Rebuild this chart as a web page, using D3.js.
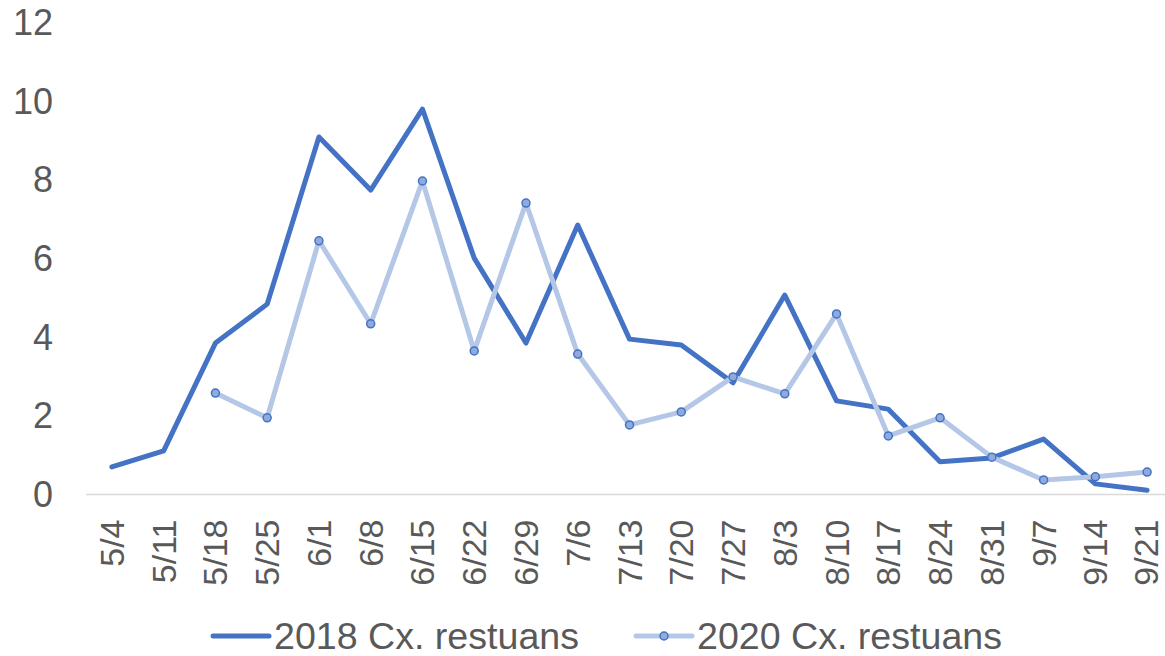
<!DOCTYPE html>
<html>
<head>
<meta charset="utf-8">
<script src="https://d3js.org/d3.v7.min.js"></script>
<style>
  body { margin: 0; background: #fff; }
  text { font-family: "Liberation Sans", Arial, sans-serif; fill: #595959; }
</style>
</head>
<body>
<div id="chart"></div>
<script>
// weeks on the x axis
const weeks = ["5/4", "5/11", "5/18", "5/25", "6/1", "6/8", "6/15", "6/22", "6/29", "7/6",
  "7/13", "7/20", "7/27", "8/3", "8/10", "8/17", "8/24", "8/31", "9/7", "9/14", "9/21"];

// series values
const restuans2018 = [0.70, 1.11, 3.85, 4.84, 9.09, 7.74, 9.80, 6.01, 3.85, 6.85,
  3.95, 3.80, 2.84, 5.07, 2.38, 2.17, 0.83, 0.93, 1.41, 0.27, 0.11];
const restuans2020 = [null, null, 2.58, 1.95, 6.45, 4.34, 7.97, 3.65, 7.41, 3.57,
  1.77, 2.10, 2.99, 2.56, 4.59, 1.49, 1.95, 0.95, 0.37, 0.45, 0.57];

const yTicks = [0, 2, 4, 6, 8, 10, 12];
const seriesNames = ["2018 Cx. restuans", "2020 Cx. restuans"];

const width = 1165;
const height = 656;
const margin = { top: 22.5, right: -8, bottom: 161.5, left: 86 };

const svg = d3.select("#chart")
  .append("svg")
  .attr("width", width)
  .attr("height", height);

const x = d3.scaleBand()
  .domain(weeks)
  .range([margin.left, width - margin.right]);

const y = d3.scaleLinear()
  .domain([0, 12])
  .range([height - margin.bottom, margin.top]);

const cx = d => x(d) + x.bandwidth() / 2;

// y tick labels (no gridlines)
svg.append("g")
  .selectAll("text")
  .data(yTicks)
  .join("text")
  .attr("x", 53)
  .attr("y", d => y(d))
  .attr("text-anchor", "end")
  .attr("dominant-baseline", "central")
  .style("font-size", "36px")
  .text(d => d);

// category axis line
svg.append("line")
  .attr("x1", margin.left)
  .attr("x2", width - margin.right)
  .attr("y1", y(0))
  .attr("y2", y(0))
  .attr("stroke", "#d9d9d9")
  .attr("stroke-width", 1.5);

// rotated week labels
svg.append("g")
  .selectAll("text")
  .data(weeks)
  .join("text")
  .attr("transform", d => `translate(${Math.min(cx(d), 1146)},${y(0) + 25}) rotate(-90)`)
  .attr("text-anchor", "end")
  .attr("dominant-baseline", "central")
  .style("font-size", "34px")
  .text(d => d);

const line = d3.line()
  .defined(d => d[1] != null)
  .x(d => cx(d[0]))
  .y(d => y(d[1]));

const pts2018 = weeks.map((w, i) => [w, restuans2018[i]]);
const pts2020 = weeks.map((w, i) => [w, restuans2020[i]]);

svg.append("path")
  .datum(pts2018)
  .attr("d", line)
  .attr("fill", "none")
  .attr("stroke", "#4472c4")
  .attr("stroke-width", 5)
  .attr("stroke-linejoin", "round")
  .attr("stroke-linecap", "round");

svg.append("path")
  .datum(pts2020)
  .attr("d", line)
  .attr("fill", "none")
  .attr("stroke", "#b4c7e7")
  .attr("stroke-width", 5)
  .attr("stroke-linejoin", "round")
  .attr("stroke-linecap", "round");

svg.append("g")
  .selectAll("circle")
  .data(pts2020.filter(d => d[1] != null))
  .join("circle")
  .attr("cx", d => cx(d[0]))
  .attr("cy", d => y(d[1]))
  .attr("r", 4)
  .attr("fill", "#8faadc")
  .attr("stroke", "#4472c4")
  .attr("stroke-width", 1.5);

// legend
const legend = svg.append("g");
const legY = 636;
const legItems = [
  { name: seriesNames[0], x0: 213, color: "#4472c4", marker: false },
  { name: seriesNames[1], x0: 636, color: "#b4c7e7", marker: true }
];
legItems.forEach(it => {
  legend.append("line")
    .attr("x1", it.x0).attr("x2", it.x0 + 56)
    .attr("y1", legY).attr("y2", legY)
    .attr("stroke", it.color)
    .attr("stroke-width", 5)
    .attr("stroke-linecap", "round");
  if (it.marker) {
    legend.append("circle")
      .attr("cx", it.x0 + 28).attr("cy", legY)
      .attr("r", 4)
      .attr("fill", "#8faadc")
      .attr("stroke", "#4472c4")
      .attr("stroke-width", 1.5);
  }
  legend.append("text")
    .attr("x", it.x0 + 61)
    .attr("y", legY)
    .attr("dominant-baseline", "central")
    .style("font-size", "36px")
    .attr("textLength", 305)
    .attr("lengthAdjust", "spacingAndGlyphs")
    .text(it.name);
});
</script>
</body>
</html>
